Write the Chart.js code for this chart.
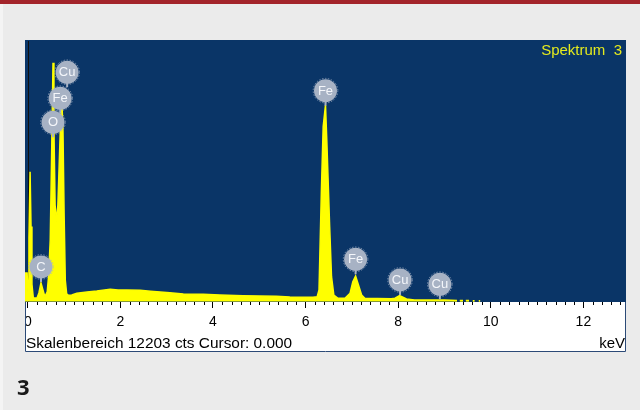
<!DOCTYPE html>
<html>
<head>
<meta charset="utf-8">
<script src="https://cdn.jsdelivr.net/npm/chart.js@4.4.1/dist/chart.umd.min.js"></script>
<style>
  html, body { margin: 0; padding: 0; background: #ebebeb; }
  canvas { display: block; }
</style>
</head>
<body>
<canvas id="eds" width="640" height="410"></canvas>
<script>
// EDS spectrum: energy channels (keV) and counts
const energyKeV = [
  -0.06, -0.015, 0.005, 0.025, 0.05, 0.07, 0.09, 0.12, 0.20, 0.24,
  0.285, 0.32, 0.37, 0.42, 0.45, 0.485, 0.52, 0.545, 0.565, 0.59,
  0.62, 0.65, 0.68, 0.71, 0.735, 0.76, 0.785, 0.81, 0.84, 0.88,
  0.95, 1.06, 1.28, 1.49, 1.78, 1.95, 2.14, 2.43, 2.65, 2.86,
  3.07, 3.36, 3.79, 4.15, 4.65, 5.01, 5.37, 5.66, 6.16, 6.25,
  6.29, 6.34, 6.38, 6.43, 6.46, 6.52, 6.56, 6.61, 6.70, 6.85,
  6.96, 7.02, 7.08, 7.13, 7.21, 7.28, 7.55, 7.85, 7.93, 8.03,
  8.18, 8.35, 9.00, 9.14, 9.27, 9.30, 9.33, 9.40, 9.43, 9.46,
  9.53, 9.57, 9.61, 9.65, 9.70, 9.74, 9.77
];
const counts = [
  1330, 1330, 400, 3000, 6058, 3500, 800, 163, 163, 400,
  863, 600, 224, 450, 1200, 2870, 7537, 11145, 8000, 4500,
  3724, 4500, 6500, 8500, 9404, 8000, 4000, 1000, 350, 290,
  300, 383, 443, 490, 569, 540, 537, 523, 480, 443,
  411, 350, 336, 303, 271, 257, 243, 210, 196, 220,
  537, 5064, 8158, 9171, 7397, 3491, 1157, 303, 149, 149,
  383, 924, 1190, 849, 303, 149, 140, 130, 149, 271,
  117, 70, 70, 60, 50, null, 45, 45, null, 40,
  40, null, 35, 35, null, 30, 30
];

// Element markers: symbol, line energy (keV), count level where the marker stem ends
const peakSymbols  = ['C', 'O', 'Fe', 'Cu', 'Fe', 'Fe', 'Cu', 'Cu'];
const peakEnergies = [0.285, 0.545, 0.70, 0.85, 6.43, 7.08, 8.04, 8.90];
const peakCounts   = [910, 7663, 8783, 9997, 9138, 1269, 303, 103];

// Axis settings and captions
const majorTicks = [0, 2, 4, 6, 8, 10, 12];
const fullScaleCounts = 12203;
const cursorKeV = 0.0;
const spectrumTitle = 'Spektrum  3';
const footerText = 'Skalenbereich ' + fullScaleCounts + ' cts Cursor: ' + cursorKeV.toFixed(3);
const unitText = 'keV';
const figureNumber = '3';

const isMajor = v => majorTicks.some(m => Math.abs(m - v) < 1e-6);

const points = energyKeV.map((e, i) => ({ x: e, y: counts[i] }));

const BG = '#ebebeb';
const PANEL = '#0a3567';
const FRAME = '#2c4a77';
const UI_FONT = '"Liberation Sans", Arial, sans-serif';

const framePlugin = {
  id: 'frame',
  beforeDraw(chart) {
    const { ctx, chartArea: a } = chart;
    const xs = chart.scales.x;
    ctx.save();
    ctx.fillStyle = BG;
    ctx.fillRect(0, 0, chart.width, chart.height);
    ctx.fillStyle = '#f4f4f4';
    ctx.fillRect(0, 0, 3, chart.height);
    ctx.fillStyle = '#a3242a';
    ctx.fillRect(0, 0, chart.width, 4);
    // spectrum panel
    ctx.fillStyle = PANEL;
    ctx.fillRect(a.left, a.top, a.right - a.left, a.bottom - a.top);
    // axis strip
    ctx.fillStyle = '#ffffff';
    ctx.fillRect(a.left, a.bottom, a.right - a.left, xs.bottom - a.bottom);
    ctx.restore();
  },
  beforeDatasetsDraw(chart) {
    const { ctx, chartArea: a } = chart;
    const px = Math.round(chart.scales.x.getPixelForValue(cursorKeV)) + 0.5;
    ctx.save();
    ctx.strokeStyle = '#111111';
    ctx.lineWidth = 1;
    ctx.beginPath();
    ctx.moveTo(px, a.top + 1);
    ctx.lineTo(px, a.bottom);
    ctx.stroke();
    ctx.restore();
  },
  afterDatasetsDraw(chart) {
    const { ctx, chartArea: a } = chart;
    const xs = chart.scales.x, ys = chart.scales.y;
    ctx.save();
    ctx.beginPath();
    ctx.rect(a.left, a.top, a.right - a.left, a.bottom - a.top);
    ctx.clip();
    peakSymbols.forEach((sym, i) => {
      const px = xs.getPixelForValue(peakEnergies[i]);
      const py = ys.getPixelForValue(peakCounts[i]);
      const r = 11.5;
      const cy = py - 15;
      ctx.strokeStyle = '#a7b2c4';
      ctx.lineWidth = 2;
      ctx.beginPath();
      ctx.moveTo(px, cy + r - 1);
      ctx.lineTo(px, py);
      ctx.stroke();
      ctx.fillStyle = '#a7b2c4';
      ctx.beginPath();
      ctx.arc(px, cy, r, 0, Math.PI * 2);
      ctx.fill();
      ctx.setLineDash([1.5, 1.5]);
      ctx.lineWidth = 1;
      ctx.strokeStyle = 'rgba(167,178,196,0.7)';
      ctx.beginPath();
      ctx.arc(px, cy, r + 0.8, 0, Math.PI * 2);
      ctx.stroke();
      ctx.setLineDash([]);
      ctx.fillStyle = '#f4f6fa';
      ctx.font = '13px ' + UI_FONT;
      ctx.textAlign = 'center';
      ctx.textBaseline = 'middle';
      ctx.fillText(sym, px, cy + 0.5);
    });
    ctx.restore();
  },
  afterDraw(chart) {
    const { ctx, chartArea: a } = chart;
    const xs = chart.scales.x;
    ctx.save();
    // minor ticks
    ctx.strokeStyle = '#000000';
    ctx.lineWidth = 1;
    xs.ticks.forEach(t => {
      if (isMajor(t.value)) return;
      const px = Math.round(xs.getPixelForValue(t.value)) + 0.5;
      ctx.beginPath();
      ctx.moveTo(px, a.bottom);
      ctx.lineTo(px, a.bottom + 3);
      ctx.stroke();
    });
    // trim the axis strip at the panel's left edge
    ctx.fillStyle = BG;
    ctx.fillRect(3, a.bottom, a.left - 3, xs.bottom - a.bottom + 2);
    // strip border
    ctx.strokeStyle = FRAME;
    ctx.beginPath();
    ctx.moveTo(a.left + 0.5, a.bottom);
    ctx.lineTo(a.left + 0.5, xs.bottom - 0.5);
    ctx.lineTo(a.right - 0.5, xs.bottom - 0.5);
    ctx.lineTo(a.right - 0.5, a.bottom);
    ctx.stroke();
    // captions
    ctx.fillStyle = '#000000';
    ctx.font = '15.4px ' + UI_FONT;
    ctx.textBaseline = 'alphabetic';
    ctx.textAlign = 'left';
    ctx.fillText(footerText, a.left + 1, xs.bottom - 4);
    ctx.font = '15px ' + UI_FONT;
    ctx.textAlign = 'right';
    ctx.fillText(unitText, a.right - 1, xs.bottom - 4);
    ctx.fillStyle = '#e4ea1e';
    ctx.textBaseline = 'middle';
    ctx.fillText(spectrumTitle, a.right - 4, a.top + 11);
    ctx.fillStyle = '#1a1a1a';
    ctx.textAlign = 'left';
    ctx.font = 'bold 22px "Open Sans", "DejaVu Sans", sans-serif';
    ctx.textBaseline = 'alphabetic';
    ctx.fillText(figureNumber, 17, 395);
    ctx.restore();
  }
};

new Chart(document.getElementById('eds'), {
  type: 'line',
  data: {
    datasets: [{
      data: points,
      borderColor: '#ffff00',
      backgroundColor: '#ffff00',
      borderWidth: 1.5,
      pointRadius: 0,
      fill: 'origin',
      tension: 0,
      spanGaps: false
    }]
  },
  options: {
    responsive: false,
    animation: false,
    events: [],
    layout: { padding: { left: 25, right: 14, top: 40, bottom: 58 } },
    plugins: { legend: { display: false }, tooltip: { enabled: false } },
    scales: {
      x: {
        type: 'linear',
        min: -0.06,
        max: 12.92,
        afterFit(scale) { scale.height = 50; },
        border: { display: false },
        grid: {
          drawOnChartArea: false,
          drawTicks: true,
          tickLength: 6,
          tickColor: c => (c.tick && isMajor(c.tick.value)) ? '#000000' : 'rgba(0,0,0,0)'
        },
        ticks: {
          stepSize: 0.2,
          includeBounds: false,
          autoSkip: false,
          maxRotation: 0,
          minRotation: 0,
          padding: 6,
          color: '#000000',
          font: { family: UI_FONT, size: 14 },
          callback: v => isMajor(v) ? String(Math.round(v)) : ''
        }
      },
      y: { display: false, min: -25, max: fullScaleCounts }
    }
  },
  plugins: [framePlugin]
});
</script>
</body>
</html>
